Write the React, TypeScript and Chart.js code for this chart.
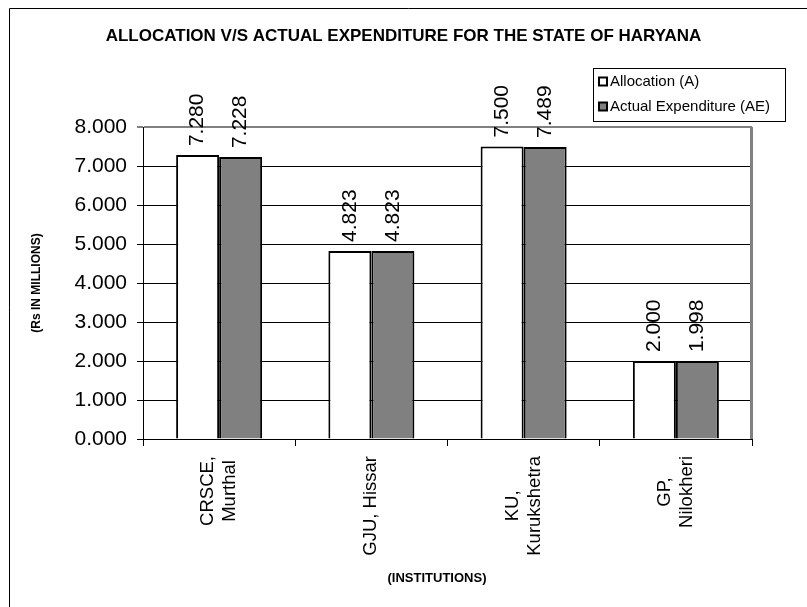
import React, { useEffect, useRef } from "react";
import { Chart, registerables } from "chart.js";

Chart.register(...registerables);

const categories: string[][] = [
  ["CRSCE,", "Murthal"],
  ["GJU, Hissar"],
  ["KU,", "Kurukshetra"],
  ["GP,", "Nilokheri"],
];
const allocation = [7.28, 4.823, 7.5, 2.0];
const actualExpenditure = [7.228, 4.823, 7.489, 1.998];
const seriesLabels = ["Allocation (A)", "Actual Expenditure (AE)"];
const seriesColors = ["#ffffff", "#808080"];
const yMin = 0;
const yMax = 8;
const yStep = 1;
const chartTitle = "ALLOCATION V/S ACTUAL EXPENDITURE FOR THE STATE OF HARYANA";
const yAxisTitle = "(Rs IN MILLIONS)";
const xAxisTitle = "(INSTITUTIONS)";

const FONT = "'Liberation Sans', Arial, sans-serif";

const decorPlugin = {
  id: "decor",
  beforeDraw(chart: any) {
    const ctx = chart.ctx;
    ctx.save();
    ctx.fillStyle = "#ffffff";
    ctx.fillRect(0, 0, chart.width, chart.height);
    ctx.strokeStyle = "#000000";
    ctx.lineWidth = 1;
    ctx.beginPath();
    ctx.moveTo(9.5, chart.height);
    ctx.lineTo(9.5, 8.5);
    ctx.lineTo(chart.width, 8.5);
    ctx.stroke();
    ctx.restore();
  },
  afterDatasetsDraw(chart: any) {
    const ctx = chart.ctx;
    ctx.save();
    ctx.fillStyle = "#000";
    ctx.font = `21px ${FONT}`;
    ctx.textAlign = "left";
    ctx.textBaseline = "middle";
    chart.data.datasets.forEach((ds: any, di: number) => {
      const meta = chart.getDatasetMeta(di);
      meta.data.forEach((bar: any, i: number) => {
        const v = ds.data[i] as number;
        ctx.save();
        ctx.translate(bar.x, bar.y - 9);
        ctx.rotate(-Math.PI / 2);
        ctx.fillText(v.toFixed(3), 0, 0);
        ctx.restore();
      });
    });
    ctx.restore();
  },
  afterDraw(chart: any) {
    const ctx = chart.ctx;
    const area = chart.chartArea;
    ctx.save();
    // plot area right border
    ctx.strokeStyle = "#808080";
    ctx.lineWidth = 3;
    ctx.beginPath();
    ctx.moveTo(area.right - 0.5, area.top);
    ctx.lineTo(area.right - 0.5, area.bottom);
    ctx.stroke();

    // x category labels (rotated, lines centered within block)
    const xs = chart.scales.x;
    ctx.fillStyle = "#000";
    ctx.font = `18.5px ${FONT}`;
    ctx.textAlign = "center";
    ctx.textBaseline = "middle";
    const lh = 22;
    categories.forEach((lines, i) => {
      const x = xs.getPixelForValue(i);
      const w = Math.max(...lines.map((l) => ctx.measureText(l).width));
      ctx.save();
      ctx.translate(x, area.bottom + 17);
      ctx.rotate(-Math.PI / 2);
      lines.forEach((l, k) => {
        ctx.fillText(l, -w / 2, (k - (lines.length - 1) / 2) * lh);
      });
      ctx.restore();
    });

    // Titles
    ctx.font = `bold 17px ${FONT}`;
    ctx.fillText(chartTitle, chart.width / 2, 36);
    ctx.font = `bold 13px ${FONT}`;
    ctx.fillText(xAxisTitle, 437, 578);
    ctx.save();
    ctx.translate(37, (area.top + area.bottom) / 2);
    ctx.rotate(-Math.PI / 2);
    ctx.font = `bold 12px ${FONT}`;
    ctx.fillText(yAxisTitle, 0, 0);
    ctx.restore();

    // Legend
    ctx.strokeStyle = "#000";
    ctx.lineWidth = 1;
    ctx.strokeRect(593.5, 68.5, 192, 53);
    ctx.font = `15px ${FONT}`;
    ctx.textAlign = "left";
    const ys = [81.5, 106.5];
    seriesLabels.forEach((lab, i) => {
      const cy = ys[i];
      ctx.fillStyle = seriesColors[i];
      ctx.fillRect(599, cy - 4, 8, 8);
      ctx.lineWidth = 2;
      ctx.strokeStyle = "#000";
      ctx.strokeRect(599, cy - 4, 8, 8);
      ctx.fillStyle = "#000";
      ctx.fillText(lab, 610, cy);
    });
    ctx.restore();
  },
};

export default function App() {
  const ref = useRef<HTMLCanvasElement | null>(null);
  useEffect(() => {
    if (!ref.current) return;
    const chart = new Chart(ref.current, {
      type: "bar",
      data: {
        labels: categories.map((c) => c.join(" ")),
        datasets: [
          {
            label: seriesLabels[0],
            data: allocation,
            backgroundColor: seriesColors[0],
            borderColor: "#000",
            borderWidth: 2,
            categoryPercentage: 0.565,
            barPercentage: 1,
          },
          {
            label: seriesLabels[1],
            data: actualExpenditure,
            backgroundColor: seriesColors[1],
            borderColor: "#000",
            borderWidth: 2,
            categoryPercentage: 0.565,
            barPercentage: 1,
          },
        ],
      },
      options: {
        responsive: false,
        animation: false,
        devicePixelRatio: 1,
        layout: { padding: { top: 127, right: 55, left: 0, bottom: 0 } },
        plugins: {
          legend: { display: false },
          title: { display: false },
          tooltip: { enabled: false },
        },
        scales: {
          x: {
            grid: {
              offset: true,
              drawOnChartArea: false,
              drawTicks: true,
              tickLength: 7,
              color: "#000",
            },
            border: { color: "#000", width: 1 },
            ticks: { display: false },
            afterFit: (s: any) => {
              s.height = 168;
            },
          },
          y: {
            min: yMin,
            max: yMax,
            ticks: {
              stepSize: yStep,
              color: "#000",
              padding: 10,
              font: { family: FONT, size: 21 },
              callback: (v: any) => Number(v).toFixed(3),
            },
            grid: {
              color: (c: any) => (c.tick && c.tick.value === yMax ? "#808080" : "#000"),
              lineWidth: (c: any) => (c.tick && c.tick.value === yMax ? 2 : 1),
              tickLength: 6,
            },
            border: { color: "#000", width: 1 },
            afterFit: (s: any) => {
              s.width = 143;
            },
          },
        },
      },
      plugins: [decorPlugin],
    });
    return () => chart.destroy();
  }, []);
  return (
    <div style={{ position: "fixed", left: 0, top: 0, width: 807, height: 607 }}>
      <canvas ref={ref} width={807} height={607} />
    </div>
  );
}
